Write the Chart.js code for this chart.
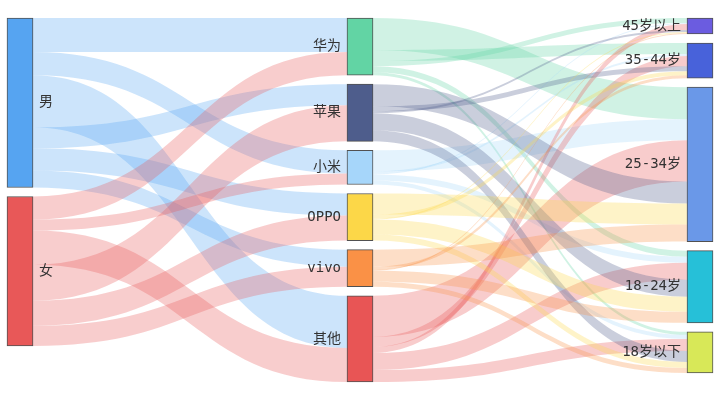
<!DOCTYPE html>
<html>
<head>
<meta charset="utf-8">
<script src="https://cdn.jsdelivr.net/npm/chart.js@4.4.0/dist/chart.umd.min.js"></script>
<style>
  html, body { margin: 0; padding: 0; background: #fff; }
  #wrap { width: 720px; height: 397px; }
</style>
</head>
<body>
<div id="wrap"><canvas id="sankey"></canvas></div>
<script>
// nodes, top to bottom in each column
const genders = ['男', '女'];
const brands = ['华为', '苹果', '小米', 'OPPO', 'vivo', '其他'];
const ages = ['45岁以上', '35-44岁', '25-34岁', '18-24岁', '18岁以下'];

// links in the order they are listed (this order decides how bands stack on a node)
const linkBrands = ['华为', '小米', '其他', '苹果', 'OPPO', 'vivo'];
const maleValues = [34, 23, 52, 21, 22, 17];
const femaleValues = [23, 11, 34, 36, 25, 20];

const linkAges = ['25-34岁', '35-44岁', '45岁以上', '18-24岁', '18岁以下'];
const huaweiAges = [32, 11, 5, 6, 3];
const xiaomiAges = [21, 2, 1, 6, 4];
const otherAges = [41, 10, 6, 17, 12];
const appleAges = [22, 5, 2, 17, 11];
const oppoAges = [21, 4, 1, 15, 6];
const vivoAges = [17, 3, 1, 11, 5];

const colors = {
    '男': '#56a4f1', '女': '#e85858',
    '华为': '#62d4a4', '苹果': '#4e5d8c', '小米': '#a6d6fa',
    'OPPO': '#fcd748', 'vivo': '#fa9146', '其他': '#e85555',
    '45岁以上': '#6b5ce0', '35-44岁': '#4862da', '25-34岁': '#6a98e8',
    '18-24岁': '#26c0d8', '18岁以下': '#d8e858'
};

const nodeWidth = 26;
const nodeGap = 9;
const linkOpacity = 0.3;

// build link list
const links = [];
linkBrands.forEach((b, i) => links.push({ source: '男', target: b, value: maleValues[i] }));
linkBrands.forEach((b, i) => links.push({ source: '女', target: b, value: femaleValues[i] }));
const agesByBrand = { '华为': huaweiAges, '小米': xiaomiAges, '其他': otherAges, '苹果': appleAges, 'OPPO': oppoAges, 'vivo': vivoAges };
linkBrands.forEach(b => {
    linkAges.forEach((a, i) => links.push({ source: b, target: a, value: agesByBrand[b][i] }));
});

// node layout: stack each column from the top
const nodes = {};
[genders, brands, ages].forEach((col, ci) => {
    let pos = 0;
    col.forEach(name => {
        const inSum = links.filter(l => l.target === name).reduce((s, l) => s + l.value, 0);
        const outSum = links.filter(l => l.source === name).reduce((s, l) => s + l.value, 0);
        const v = Math.max(inSum, outSum);
        nodes[name] = { name, col: ci, start: pos, end: pos + v, outPos: pos, inPos: pos };
        pos += v + nodeGap;
    });
});
links.forEach(l => {
    const s = nodes[l.source], t = nodes[l.target];
    l.sy = s.outPos; s.outPos += l.value;
    l.ty = t.inPos; t.inPos += l.value;
});
const yMax = Math.max(...Object.values(nodes).map(n => n.end));

function alpha(hex, a) {
    const n = parseInt(hex.slice(1), 16);
    return `rgba(${n >> 16}, ${(n >> 8) & 255}, ${n & 255}, ${a})`;
}

// links are drawn under the node bars
const linkPlugin = {
    id: 'links',
    beforeDatasetsDraw(chart) {
        const { ctx, scales: { x, y } } = chart;
        const half = nodeWidth / 2;
        ctx.save();
        links.forEach(l => {
            const s = nodes[l.source], t = nodes[l.target];
            const xs = x.getPixelForValue(s.col) + half;
            const xt = x.getPixelForValue(t.col) - half;
            const xm = (xs + xt) / 2;
            const s0 = y.getPixelForValue(l.sy), s1 = y.getPixelForValue(l.sy + l.value);
            const t0 = y.getPixelForValue(l.ty), t1 = y.getPixelForValue(l.ty + l.value);
            ctx.beginPath();
            ctx.moveTo(xs, s0);
            ctx.bezierCurveTo(xm, s0, xm, t0, xt, t0);
            ctx.lineTo(xt, t1);
            ctx.bezierCurveTo(xm, t1, xm, s1, xs, s1);
            ctx.closePath();
            ctx.fillStyle = alpha(colors[l.source], linkOpacity);
            ctx.fill();
        });
        ctx.restore();
    },
    afterDatasetsDraw(chart) {
        const { ctx, scales: { x, y } } = chart;
        const half = nodeWidth / 2;
        ctx.save();
        ctx.font = '14px "DejaVu Sans Mono", "Noto Sans CJK SC", monospace';
        ctx.fillStyle = '#333';
        ctx.textBaseline = 'middle';
        Object.values(nodes).forEach(n => {
            const cy = y.getPixelForValue((n.start + n.end) / 2);
            const cx = x.getPixelForValue(n.col);
            if (n.col === 0) {
                ctx.textAlign = 'left';
                ctx.fillText(n.name, cx + half + 6, cy);
            } else {
                ctx.textAlign = 'right';
                ctx.fillText(n.name, cx - half - 6, cy);
            }
        });
        ctx.restore();
    }
};

const nodeList = Object.values(nodes);
new Chart(document.getElementById('sankey'), {
    type: 'bar',
    data: {
        datasets: [{
            data: nodeList.map(n => ({ x: n.col, y: [n.start, n.end] })),
            backgroundColor: nodeList.map(n => colors[n.name]),
            borderColor: 'rgba(50, 50, 50, 0.85)',
            borderWidth: 1,
            borderSkipped: false,
            barThickness: nodeWidth,
            clip: false
        }]
    },
    options: {
        responsive: true,
        maintainAspectRatio: false,
        animation: false,
        layout: { padding: { left: 20, right: 20, top: 18, bottom: 15 } },
        scales: {
            x: { type: 'linear', min: 0, max: 2, offset: false, display: false },
            y: { min: 0, max: yMax, reverse: true, display: false }
        },
        plugins: { legend: { display: false }, tooltip: { enabled: false } }
    },
    plugins: [linkPlugin]
});
</script>
</body>
</html>
